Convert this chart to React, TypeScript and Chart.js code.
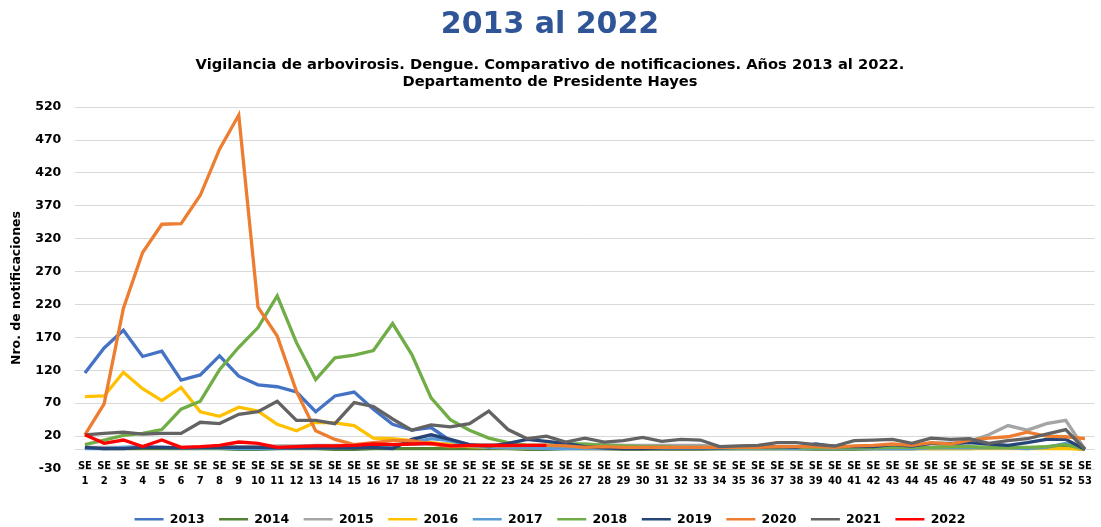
import React, { useEffect, useRef } from "react";
import { Chart, registerables } from "chart.js";

Chart.register(...registerables);

const weeks = [
  "1", "2", "3", "4", "5", "6", "7", "8", "9", "10",
  "11", "12", "13", "14", "15", "16", "17", "18", "19", "20",
  "21", "22", "23", "24", "25", "26", "27", "28", "29", "30",
  "31", "32", "33", "34", "35", "36", "37", "38", "39", "40",
  "41", "42", "43", "44", "45", "46", "47", "48", "49", "50",
  "51", "52", "53",
];

const yTicks = [-30, 0, 20, 70, 120, 170, 220, 270, 320, 370, 420, 470, 520];

const years = ["2013", "2014", "2015", "2016", "2017", "2018", "2019", "2020", "2021", "2022"];

const s2013 = [116, 154, 181, 141, 149, 105, 113, 142, 111, 98, 95, 87, 57, 81, 87, 61, 38, 29, 33, 13, 6, 4, 3, 3, 2, 2, 2, 1, 1, 1, 1, 1, 1, 1, 1, 1, 1, 1, 1, 1, 1, 1, 1, 1, 2, 2, 2, 2, 2, 2, 3, 3, 0];
const s2014 = [2, 1, 1, 1, 1, 1, 1, 1, 0, 0, 1, 1, 1, 0, 0, 1, 1, 1, 1, 1, 1, 1, 1, 0, 0, 1, 1, 1, 0, 0, 0, 0, 0, 1, 1, 1, 1, 1, 0, 0, 0, 1, 1, 1, 1, 1, 1, 2, 2, 2, 3, 4, 0];
const s2015 = [3, 3, 3, 3, 3, 3, 3, 4, 4, 4, 5, 5, 6, 6, 6, 7, 7, 8, 8, 8, 7, 7, 7, 6, 6, 6, 7, 7, 6, 6, 6, 6, 6, 4, 4, 4, 4, 4, 4, 3, 3, 3, 3, 3, 3, 5, 12, 22, 36, 29, 39, 44, 0];
const s2016 = [80, 81, 117, 92, 74, 94, 57, 50, 64, 58, 38, 28, 41, 40, 36, 17, 16, 13, 10, 7, 4, 3, 2, 2, 2, 2, 1, 1, 1, 1, 1, 1, 1, 1, 1, 1, 1, 1, 1, 1, 1, 1, 1, 1, 1, 1, 1, 1, 1, 1, 1, 1, 0];
const s2017 = [1, 1, 3, 4, 3, 2, 2, 2, 1, 1, 1, 2, 2, 2, 3, 4, 6, 10, 16, 13, 5, 3, 2, 2, 1, 1, 1, 1, 1, 1, 1, 1, 1, 1, 1, 1, 1, 1, 1, 1, 1, 1, 1, 1, 2, 2, 2, 2, 2, 1, 3, 9, 0];
const s2018 = [7, 14, 21, 24, 30, 61, 73, 121, 155, 185, 233, 162, 106, 139, 143, 150, 191, 144, 78, 45, 29, 17, 10, 6, 6, 8, 8, 6, 5, 4, 4, 3, 3, 2, 2, 2, 2, 3, 2, 2, 2, 2, 3, 3, 3, 4, 4, 3, 3, 3, 4, 7, 0];
const s2019 = [3, 1, 1, 3, 3, 2, 3, 3, 3, 3, 2, 2, 2, 2, 2, 3, 1, 15, 22, 15, 7, 4, 9, 15, 12, 9, 4, 2, 1, 1, 2, 2, 2, 2, 3, 3, 4, 3, 8, 4, 4, 4, 7, 5, 9, 9, 10, 8, 6, 10, 15, 15, 0];
const s2020 = [22, 69, 214, 299, 342, 343, 386, 456, 508, 216, 172, 88, 28, 15, 7, 10, 13, 13, 8, 4, 5, 5, 5, 6, 6, 5, 3, 4, 3, 3, 3, 3, 3, 3, 3, 3, 4, 4, 4, 3, 5, 6, 8, 6, 10, 8, 14, 17, 19, 26, 20, 19, 16];
const s2021 = [22, 24, 26, 23, 24, 24, 41, 39, 53, 57, 73, 44, 44, 39, 71, 65, 46, 29, 37, 34, 39, 58, 30, 16, 20, 11, 17, 11, 13, 18, 12, 15, 14, 4, 5, 6, 10, 10, 7, 5, 13, 14, 15, 9, 17, 15, 16, 9, 13, 16, 23, 30, 0];
const s2022 = [22, 9, 14, 4, 14, 3, 4, 6, 11, 9, 3, 4, 5, 5, 6, 8, 7, 8, 9, 5, 6, 6, 6, 6, 6, null, null, null, null, null, null, null, null, null, null, null, null, null, null, null, null, null, null, null, null, null, null, null, null, null, null, null, null];

const seriesList = [s2013, s2014, s2015, s2016, s2017, s2018, s2019, s2020, s2021, s2022];
const colors = ["#4472C4", "#548235", "#A5A5A5", "#FFC000", "#5B9BD5", "#70AD47", "#264478", "#ED7D31", "#636363", "#FF0000"];

const FONT = "'DejaVu Sans', Verdana, sans-serif";

export default function App() {
  const ref = useRef<HTMLCanvasElement | null>(null);

  useEffect(() => {
    if (!ref.current) return;
    const datasets = years.map((y, i) => ({
      label: y,
      data: seriesList[i],
      borderColor: colors[i],
      backgroundColor: colors[i],
      borderWidth: 3.3,
      pointRadius: 0,
      pointHoverRadius: 0,
      tension: 0,
      fill: false,
      spanGaps: false,
      order: years.length - i,
    }));

    const chart = new Chart(ref.current, {
      type: "line",
      data: {
        labels: weeks.map((w) => ["SE", w]),
        datasets,
      },
      options: {
        animation: false,
        responsive: false,
        maintainAspectRatio: false,
        layout: { padding: { left: 0, right: 1, top: 0, bottom: -8.5 } },
        plugins: {
          tooltip: { enabled: false },
          title: {
            display: true,
            text: "2013 al 2022",
            color: "#2F5597",
            font: { family: FONT, size: 30, weight: "bold", lineHeight: 1.2 },
            padding: { top: 7.5, bottom: 13 },
          },
          subtitle: {
            display: true,
            text: [
              "Vigilancia de arbovirosis. Dengue. Comparativo de notificaciones. Años 2013 al 2022.",
              "Departamento de Presidente Hayes",
            ],
            color: "#000000",
            font: { family: FONT, size: 14.7, weight: "bold", lineHeight: 1.16 },
            padding: { top: 0, bottom: 16.5 },
          },
          legend: {
            display: true,
            position: "bottom",
            labels: {
              usePointStyle: true,
              pointStyle: "line",
              pointStyleWidth: 29,
              padding: 14.5,
              color: "#000000",
              font: { family: FONT, size: 12.5, weight: "bold" },
              sort: (a: any, b: any) => a.datasetIndex - b.datasetIndex,
              generateLabels: (c: any) => {
                const items = Chart.defaults.plugins.legend.labels.generateLabels(c);
                return items.map((it: any) => ({ ...it, lineWidth: 2.5, pointStyle: "line" }));
              },
            },
          },
        },
        scales: {
          x: {
            position: { y: 0 },
            offset: true,
            grid: { display: false, drawTicks: false, offset: true },
            border: { display: false },
            ticks: {
              autoSkip: false,
              maxRotation: 0,
              minRotation: 0,
              padding: 9,
              color: "#000000",
              font: { family: FONT, size: 10, weight: "bold", lineHeight: 1.55 },
            },
          },
          xSpace: {
            type: "category",
            position: "bottom",
            display: true,
            offset: true,
            grid: { display: false, drawTicks: false },
            border: { display: false },
            ticks: { display: false },
            afterFit: (scale: any) => {
              scale.height = 29.5;
            },
          },
          y: {
            min: -30,
            max: 520,
            grid: { color: "#D9D9D9", lineWidth: 1, drawTicks: false },
            border: { display: false },
            afterBuildTicks: (scale: any) => {
              scale.ticks = yTicks.map((v) => ({ value: v }));
            },
            afterFit: (scale: any) => {
              scale.width = 75.3;
            },
            ticks: {
              padding: 14,
              color: "#000000",
              font: { family: FONT, size: 12.5, weight: "bold" },
              callback: (v: any) => (Number(v) === 0 ? "" : String(v)),
            },
            title: {
              display: true,
              text: "Nro. de notificaciones",
              color: "#000000",
              font: { family: FONT, size: 12.5, weight: "bold", lineHeight: 1.2 },
              padding: { top: 9.5, bottom: 0 },
            },
          },
        },
      },
    });
    return () => chart.destroy();
  }, []);

  return (
    <div style={{ position: "fixed", left: 0, top: 0, width: 1101, height: 527, background: "#ffffff" }}>
      <canvas ref={ref} width={1101} height={527} style={{ width: 1101, height: 527, display: "block" }} />
    </div>
  );
}
